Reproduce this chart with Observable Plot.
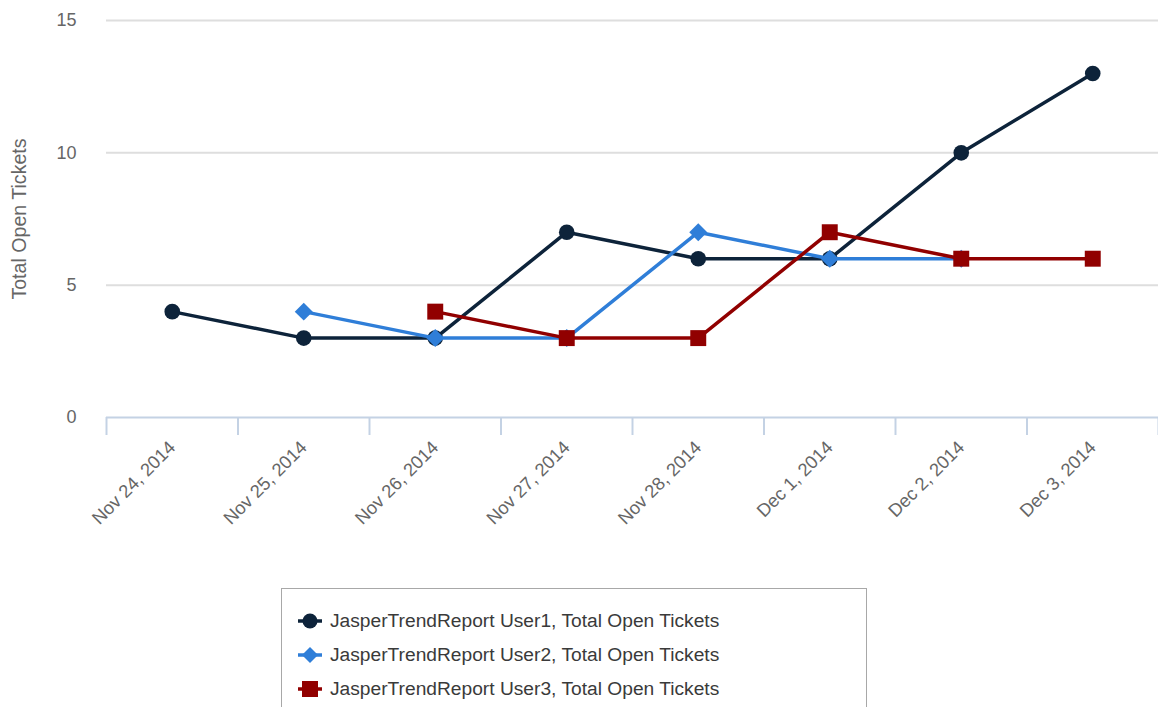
<!DOCTYPE html>
<html>
<head>
<meta charset="utf-8">
<script src="https://cdn.jsdelivr.net/npm/d3@7"></script>
<script src="https://cdn.jsdelivr.net/npm/@observablehq/plot@0.6"></script>
<style>
  html, body { margin: 0; padding: 0; background: #fff; }
  body { width: 1158px; height: 707px; overflow: hidden; font-family: "Liberation Sans", Arial, sans-serif; }
  #legend { position: absolute; left: 281px; top: 588px; width: 586px; height: 130px; border: 1px solid #a8a8a8; box-sizing: border-box; padding-top: 15px; }
  .item { display: flex; align-items: center; height: 34px; font-size: 19.2px; color: #3a3a3a; }
  .item svg { margin-left: 16px; margin-right: 8px; }
</style>
</head>
<body>
<div id="chart"></div>
<div id="legend"></div>
<script>
const dates = ["Nov 24, 2014", "Nov 25, 2014", "Nov 26, 2014", "Nov 27, 2014", "Nov 28, 2014", "Dec 1, 2014", "Dec 2, 2014", "Dec 3, 2014"];
const seriesNames = ["JasperTrendReport User1, Total Open Tickets", "JasperTrendReport User2, Total Open Tickets", "JasperTrendReport User3, Total Open Tickets"];
const colors = ["#0d233a", "#2f7ed8", "#910000"];
const symbols = ["circle", "diamond2", "square"];
// null = no value for that date
const user1 = [4, 3, 3, 7, 6, 6, 10, 13];
const user2 = [null, 4, 3, 3, 7, 6, 6, null];
const user3 = [null, null, 4, 3, 3, 7, 6, 6];
const yTicks = [0, 5, 10, 15];

const allSeries = [user1, user2, user3];
const rows = [];
allSeries.forEach((vals, s) => vals.forEach((v, i) => { if (v != null) rows.push({series: seriesNames[s], s, i, value: v}); }));
const boundaries = dates.map((d, i) => i - 0.5).concat([dates.length - 0.5]);
const centers = dates.map((d, i) => i);
const dotR = [7.8, 8.1, 9];

const marks = [
  Plot.gridY(yTicks.filter(t => t > 0), {stroke: "#dedede", strokeOpacity: 1, strokeWidth: 2}),
  Plot.ruleY([0], {stroke: "#c4d2e4", strokeWidth: 2}),
  Plot.axisX(boundaries, {tickSize: 18, tickFormat: () => "", stroke: "#c4d2e4", strokeWidth: 2, label: null}),
  Plot.axisX(centers, {tickSize: 0, tickPadding: 27, tickRotate: -45, tickFormat: i => dates[i], fontSize: 18.3, fill: "#666", label: null}),
  Plot.axisY(yTicks, {tickSize: 0, tickPadding: 30, fontSize: 18, fill: "#666", label: null}),
  Plot.text(["Total Open Tickets"], {frameAnchor: "left", textAnchor: "middle", rotate: -90, dx: -87, fontSize: 19.6, fill: "#666"})
];
allSeries.forEach((vals, s) => {
  const data = rows.filter(r => r.s === s);
  marks.push(Plot.line(data, {x: "i", y: "value", stroke: colors[s], strokeWidth: 3.5, curve: "linear"}));
  marks.push(Plot.dot(data, {x: "i", y: "value", fill: colors[s], stroke: "none", symbol: symbols[s], r: dotR[s]}));
});

const chart = Plot.plot({
  width: 1158,
  height: 580,
  marginLeft: 106,
  marginRight: 0,
  marginTop: 20,
  marginBottom: 163,
  style: {fontFamily: "'Liberation Sans', Arial, sans-serif", background: "#fff"},
  x: {type: "linear", domain: [-0.5, dates.length - 0.5], axis: null},
  y: {domain: [0, 15], axis: null},
  marks
});
document.getElementById("chart").appendChild(chart);

// legend
const legend = document.getElementById("legend");
seriesNames.forEach((name, s) => {
  const item = document.createElement("div");
  item.className = "item";
  let marker;
  if (s === 0) marker = '<circle cx="12" cy="8" r="7.5" fill="' + colors[s] + '"/>';
  else if (s === 1) marker = '<path d="M12,0 L20,8 L12,16 L4,8 Z" fill="' + colors[s] + '"/>';
  else marker = '<rect x="4" y="0" width="16" height="16" fill="' + colors[s] + '"/>';
  item.innerHTML = '<svg width="24" height="16"><line x1="0" y1="8" x2="24" y2="8" stroke="' + colors[s] + '" stroke-width="3.5"/>' + marker + '</svg><span>' + name + '</span>';
  legend.appendChild(item);
});
</script>
</body>
</html>
